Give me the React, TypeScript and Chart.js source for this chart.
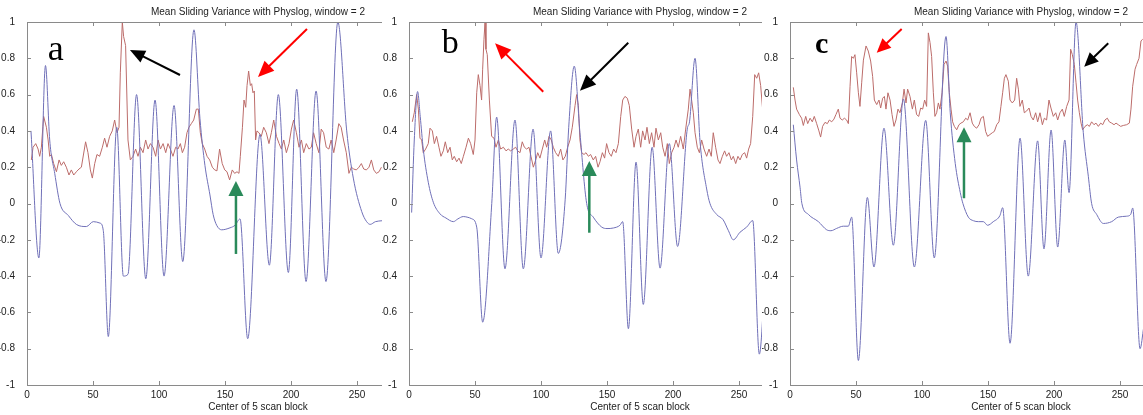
import React, { useEffect, useRef } from 'react';
import { Chart, registerables } from 'chart.js';

Chart.register(...registerables);

// ---------- text & ticks ----------
const TITLE = 'Mean Sliding Variance with Physlog, window = 2';
const X_LABEL = 'Center of 5 scan block';
const X_TICKS = [0, 50, 100, 150, 200, 250];
const Y_TICKS = [-1, -0.8, -0.6, -0.4, -0.2, 0, 0.2, 0.4, 0.6, 0.8, 1];

// ---------- panel a ----------
const aBlue: [number, number][] = [
  [3, 0.40], [9, -0.30], [14, 0.76], [17.2, 0.35], [21, 0.166], [25, 0.0], [31.3, -0.066], [37.6, -0.116],
  [45, -0.127], [50.2, -0.10], [55.3, -0.108], [57.8, -0.149], [61.6, -0.733], [68, 0.42], [73, -0.40],
  [76.5, -0.39], [83, 0.60], [90, -0.415], [97, 0.57], [103.8, -0.40], [111.4, 0.54], [118, -0.32],
  [126.5, 0.957], [131, 0.47], [134.8, 0.21], [138.6, 0.047], [141, -0.06], [143.7, -0.12], [147.5, -0.145],
  [153.8, -0.134], [157.6, -0.12], [161.4, -0.085], [167.2, -0.745], [176.5, 0.38], [183.6, -0.34],
  [190.4, 0.60], [198, -0.38], [204.3, 0.63], [211.4, -0.43], [219, 0.62], [226.5, -0.43], [235.5, 1.0],
  [242.2, 0.40], [247.2, 0.14], [253.6, -0.045], [257.3, -0.10], [260, -0.115], [264, -0.10], [269, -0.095],
];
const aRed: [number, number][] = [
  [3.3, 0.24], [4.6, 0.31], [6.6, 0.33], [8.4, 0.30], [9.6, 0.26], [10.9, 0.31], [12.6, 0.48], [14.7, 0.42],
  [16, 0.35], [17.2, 0.26], [18.5, 0.27], [20.2, 0.22], [22.3, 0.175], [24.3, 0.24], [26, 0.21], [27.8, 0.23],
  [29.8, 0.20], [31.8, 0.157], [33.6, 0.185], [35.4, 0.157], [37.4, 0.175], [39.4, 0.19], [41.2, 0.20],
  [44.4, 0.34], [46.2, 0.28], [48, 0.185], [49.5, 0.14], [51.3, 0.22], [53, 0.27], [55, 0.26], [57.1, 0.31],
  [58.8, 0.36], [60.6, 0.31], [62.6, 0.37], [64.6, 0.40], [66.4, 0.46], [68.2, 0.39], [69.7, 0.42],
  [70.7, 0.72], [72.2, 1.0], [73.2, 0.92], [74.7, 0.87], [76.5, 0.35], [78.3, 0.24], [80.3, 0.26],
  [82.3, 0.30], [84.1, 0.26], [85.9, 0.31], [87.9, 0.28], [89.9, 0.35], [91.7, 0.30], [93.5, 0.33],
  [95.5, 0.31], [97.5, 0.26], [99.3, 0.35], [101.1, 0.30], [103.1, 0.33], [105.1, 0.28], [106.8, 0.33],
  [108.6, 0.30], [110.6, 0.26], [112.6, 0.31], [114.4, 0.30], [116.2, 0.33], [117.7, 0.28], [119.4, 0.31],
  [121.2, 0.39], [122.7, 0.42], [124.5, 0.44], [126.3, 0.46], [128.3, 0.52], [129.8, 0.52], [131.3, 0.39],
  [132.8, 0.33], [134.6, 0.30], [136.4, 0.26], [138.4, 0.24], [140.4, 0.20], [142.2, 0.185], [143.9, 0.18],
  [145.9, 0.30], [147.9, 0.22], [149.8, 0.185], [151.5, 0.175], [153.5, 0.13], [155.5, 0.185], [157.3, 0.166],
  [159.1, 0.175], [160.6, 0.166], [161.6, 0.26], [163.2, 0.42], [164.4, 0.57], [165.7, 0.53], [166.7, 0.65],
  [167.9, 0.73], [169.2, 0.65], [170.2, 0.66], [171.2, 0.61], [172.2, 0.62], [173.2, 0.35], [174.2, 0.40],
  [175.7, 0.39], [177.5, 0.37], [179.3, 0.42], [181.3, 0.39], [183.3, 0.33], [185.1, 0.39], [186.9, 0.46],
  [189, 0.37], [191, 0.33], [192.7, 0.30], [194.5, 0.35], [196.5, 0.28], [198.5, 0.33], [200.3, 0.41],
  [202, 0.46], [204.1, 0.39], [206.1, 0.31], [207.9, 0.35], [209.6, 0.28], [211.6, 0.33], [213.6, 0.30],
  [215.4, 0.31], [217.1, 0.39], [219.1, 0.33], [221.1, 0.28], [222.9, 0.41], [224.7, 0.39], [226.7, 0.31],
  [228.7, 0.30], [230.4, 0.35], [232.4, 0.28], [234.2, 0.35], [236.2, 0.44], [238, 0.42], [239.8, 0.35],
  [241.9, 0.28], [243.9, 0.166], [245.7, 0.20], [247.5, 0.19], [249.5, 0.185], [251.5, 0.20], [253.3, 0.22],
  [255.1, 0.19], [257.1, 0.185], [259.1, 0.20], [260.9, 0.24], [262.7, 0.185], [264.7, 0.166], [266.7, 0.175],
  [268.5, 0.2],
];

// ---------- panel b ----------
const bBlue: [number, number][] = [
  [2, -0.05], [4, 0.35], [6.5, 0.617], [8.5, 0.48], [10.8, 0.30], [14.6, 0.117], [18.4, 0.007], [23.5, -0.057],
  [28, -0.08], [33.6, -0.10], [37, -0.085], [41.1, -0.072], [44, -0.075], [47.5, -0.084], [51.3, -0.13],
  [55.8, -0.654], [62.7, 0.0], [66.4, 0.476], [72.7, -0.36], [80.3, 0.46], [86.6, -0.36], [94, 0.41],
  [100, -0.30], [107.3, 0.40], [113.1, -0.275], [118.3, 0.02], [121, 0.42], [125.2, 0.757], [129.5, 0.39],
  [134.6, 0.0], [139.6, -0.075], [146, -0.13], [150, -0.138], [154.8, -0.135], [159.8, -0.12], [161.9, -0.10],
  [166.2, -0.69], [172, 0.228], [177.5, -0.556], [184.2, 0.31], [190.2, -0.356], [197.2, 0.33], [203.5, -0.237],
  [210.8, 0.41], [212.5, 0.45], [216.7, 0.80], [220.5, 0.34], [225.5, 0.08], [228, 0.0], [233, -0.06],
  [238, -0.09], [242, -0.15], [245.7, -0.2], [250.8, -0.158], [255.8, -0.13], [260.4, -0.094], [265.4, -0.83],
  [269.7, -0.42],
];
const bRed: [number, number][] = [
  [2.5, 0.45], [4, 0.50], [5.8, 0.60], [7.1, 0.52], [8.3, 0.36], [9.6, 0.35], [10.8, 0.28], [12.6, 0.30],
  [14.6, 0.33], [15.9, 0.415], [17.7, 0.40], [19.2, 0.33], [20.9, 0.37], [22.7, 0.31], [24.2, 0.26], [26, 0.29],
  [27.5, 0.34], [29.3, 0.28], [31.1, 0.31], [32.8, 0.24], [34.3, 0.26], [36.1, 0.23], [37.9, 0.25], [39.6, 0.22],
  [41.2, 0.26], [43.2, 0.31], [45, 0.36], [46.7, 0.33], [48.7, 0.27], [50, 0.35], [51.3, 0.61], [52.5, 0.71],
  [53.8, 0.65], [55, 0.57], [55.8, 0.74], [56.8, 0.905], [57.6, 1.0], [58.3, 0.85], [59.3, 0.82], [60.9, 0.57],
  [62.6, 0.37], [64.4, 0.36], [65.9, 0.31], [67.7, 0.35], [69.4, 0.30], [71.5, 0.31], [73.5, 0.29], [75.2, 0.30],
  [77, 0.29], [79, 0.30], [80.8, 0.31], [82.3, 0.29], [84.1, 0.28], [85.8, 0.34], [87.4, 0.31], [89.1, 0.30],
  [90.9, 0.31], [92.4, 0.26], [94.2, 0.20], [96, 0.24], [97.5, 0.28], [99.2, 0.25], [101, 0.30], [102.8, 0.35],
  [104.3, 0.31], [106.1, 0.37], [107.8, 0.35], [109.3, 0.31], [111.1, 0.28], [113.1, 0.26], [114.9, 0.30],
  [116.6, 0.24], [118.4, 0.26], [120.2, 0.31], [122, 0.35], [123.7, 0.42], [125.8, 0.54], [127, 0.60],
  [128.3, 0.54], [129.5, 0.35], [130.8, 0.28], [132.6, 0.27], [134.1, 0.28], [135.9, 0.26], [137.6, 0.27],
  [139.6, 0.24], [141.4, 0.26], [143.2, 0.20], [144.7, 0.23], [146.5, 0.28], [148.2, 0.25], [149.7, 0.33],
  [151.5, 0.28], [153.3, 0.26], [155, 0.30], [156.8, 0.28], [158.6, 0.33], [160.4, 0.48], [161.9, 0.57],
  [163.6, 0.59], [165.4, 0.58], [166.9, 0.54], [168.7, 0.41], [170.5, 0.31], [172, 0.37], [173.7, 0.41],
  [175.5, 0.31], [177, 0.40], [178.8, 0.35], [180.3, 0.42], [182.1, 0.33], [183.8, 0.39], [185.6, 0.31],
  [187.1, 0.415], [188.9, 0.35], [190.7, 0.39], [192.2, 0.31], [194, 0.26], [195.7, 0.33], [197.2, 0.22],
  [199, 0.28], [200.8, 0.31], [202.3, 0.35], [204, 0.31], [205.8, 0.37], [207.8, 0.30], [209.6, 0.41],
  [211.6, 0.52], [212.9, 0.63], [214.1, 0.57], [215.4, 0.50], [216.7, 0.39], [218.4, 0.31], [220, 0.28],
  [221.7, 0.35], [223.5, 0.30], [225.5, 0.26], [227.3, 0.30], [229, 0.26], [230.5, 0.39], [232.3, 0.31],
  [234.1, 0.24], [235.6, 0.22], [237.4, 0.26], [239.1, 0.29], [240.6, 0.26], [242.4, 0.28], [244.2, 0.24],
  [245.7, 0.26], [247.5, 0.22], [249.2, 0.26], [250.8, 0.24], [252.5, 0.27], [254.3, 0.28], [255.8, 0.25],
  [257.3, 0.30], [258.8, 0.33], [260.4, 0.48], [261.9, 0.71], [263.4, 0.69], [264.9, 0.72], [266.4, 0.65],
  [267.9, 0.52], [269.4, 0.39],
];

// ---------- panel c ----------
const cBlue: [number, number][] = [
  [2.5, 0.434], [5, 0.24], [7.6, 0.09], [9, 0.0], [13.9, -0.06], [21.5, -0.1], [27.8, -0.145], [31, -0.15],
  [35.4, -0.137], [40.4, -0.125], [44.2, -0.125], [46.7, -0.075], [51.8, -0.865], [58.6, 0.033], [63.6, -0.35],
  [71.2, 0.415], [78.3, -0.23], [85.9, 0.576], [94.2, -0.35], [102.8, 0.458], [109.3, -0.30], [118.2, 0.92],
  [121.4, 0.50], [125.2, 0.22], [129, 0.06], [131, 0.0], [135.1, -0.075], [139, -0.095], [142.7, -0.1],
  [146.5, -0.1], [149.7, -0.12], [154, -0.1], [159, -0.067], [161.1, -0.023], [166.7, -0.77], [174.3, 0.36],
  [180.5, -0.40], [187.6, 0.345], [192.4, -0.25], [197.8, 0.405], [202.8, -0.24], [208.2, 0.35], [211.4, 0.06],
  [216.7, 1.0], [222.2, 0.39], [226, 0.15], [228.5, 0.0], [232.3, -0.06], [237.4, -0.11], [243.7, -0.10],
  [248.7, -0.075], [255, -0.07], [258.1, -0.06], [259.6, -0.025], [265.2, -0.80], [268, -0.68],
];
const cRed: [number, number][] = [
  [2.5, 0.64], [3.8, 0.57], [5, 0.52], [7.1, 0.49], [8.8, 0.47], [10.1, 0.43], [11.9, 0.48], [13.4, 0.44],
  [15.2, 0.47], [16.9, 0.45], [18.4, 0.48], [20.2, 0.44], [21.9, 0.40], [23.2, 0.366], [24.7, 0.425],
  [26.5, 0.447], [28.3, 0.44], [29.8, 0.46], [31.6, 0.45], [33.3, 0.465], [34.8, 0.49], [36.6, 0.52],
  [37.9, 0.47], [39.6, 0.46], [41.2, 0.47], [42.9, 0.46], [44.2, 0.44], [45.5, 0.646], [46.7, 0.81], [48, 0.80],
  [49.2, 0.82], [50.5, 0.72], [51.8, 0.61], [53, 0.535], [54.3, 0.665], [55.6, 0.79], [57.6, 0.868],
  [59.3, 0.84], [61.1, 0.785], [62.6, 0.70], [63.9, 0.57], [65.7, 0.545], [67.4, 0.57], [68.7, 0.526],
  [70.2, 0.58], [71.5, 0.59], [72.7, 0.52], [74.2, 0.61], [75.8, 0.57], [77.3, 0.49], [78.8, 0.425],
  [80.3, 0.46], [81.8, 0.52], [83.3, 0.50], [85.1, 0.554], [86.4, 0.63], [87.9, 0.554], [89.1, 0.63],
  [90.9, 0.59], [92.7, 0.52], [94.2, 0.57], [95.9, 0.49], [97.5, 0.48], [99, 0.526], [100.5, 0.52], [102, 0.57],
  [103.5, 0.535], [104.8, 0.94], [106.1, 0.886], [107.3, 0.81], [108.6, 0.61], [109.8, 0.48], [111.1, 0.50],
  [112.4, 0.554], [113.6, 0.52], [115.2, 0.61], [116.7, 0.766], [118.2, 0.785], [119.4, 0.757], [120.7, 0.61],
  [122, 0.52], [123.2, 0.45], [124.5, 0.425], [126.3, 0.406], [128, 0.434], [129.5, 0.443], [131.3, 0.45],
  [133.1, 0.47], [134.6, 0.46], [136.4, 0.50], [138.1, 0.443], [139.6, 0.425], [141.4, 0.415], [143.2, 0.434],
  [144.7, 0.47], [146.5, 0.48], [148.2, 0.397], [149.7, 0.37], [151.5, 0.38], [153.3, 0.39], [154.8, 0.397],
  [156.6, 0.434], [158.3, 0.45], [159.8, 0.535], [161.1, 0.61], [162.4, 0.69], [163.6, 0.71], [165.4, 0.674],
  [166.7, 0.57], [168.4, 0.554], [170.2, 0.57], [171.7, 0.69], [173, 0.63], [174.2, 0.535], [176, 0.57],
  [177.5, 0.50], [179.3, 0.51], [181.1, 0.526], [182.6, 0.48], [184.3, 0.46], [186.1, 0.50], [187.6, 0.45],
  [189.4, 0.50], [191.2, 0.434], [192.7, 0.47], [194.4, 0.46], [196.2, 0.57], [197.7, 0.526], [199.5, 0.48],
  [201.3, 0.50], [202.8, 0.46], [204.5, 0.50], [206.3, 0.52], [207.8, 0.48], [209.6, 0.535], [211.4, 0.57],
  [212.6, 0.85], [213.9, 0.82], [215.4, 0.766], [216.7, 0.665], [217.9, 0.57], [219.2, 0.50], [220.5, 0.443],
  [221.7, 0.406], [223.5, 0.425], [225.3, 0.434], [226.8, 0.425], [228.5, 0.45], [230.3, 0.434], [231.8, 0.443],
  [233.6, 0.425], [235.4, 0.443], [236.9, 0.434], [238.6, 0.46], [240.4, 0.47], [241.9, 0.45], [243.7, 0.443],
  [245.5, 0.434], [247, 0.443], [248.7, 0.434], [250.5, 0.425], [252.5, 0.43], [255, 0.434], [257.1, 0.443],
  [258.3, 0.52], [259.6, 0.646], [261.4, 0.74], [262.6, 0.766], [264.4, 0.80], [265.9, 0.896], [267.2, 0.905],
];

// ---------- styling ----------
const RED_LINE = 'rgb(188, 108, 106)';
const BLUE_LINE = 'rgb(112, 112, 184)';
const AXIS_GRAY = '#8a8a8a';
const TEXT = '#222222';
const SANS = '"Liberation Sans", Arial, sans-serif';
const SERIF = '"Liberation Serif", "Times New Roman", serif';
const TITLE_CENTER_X = 175; // data-x where the (wider original) axes centre its title

type Arrow = { color: string; from: [number, number]; to: [number, number]; lw: number; head: number; headW: number };
type Panel = {
  left: number; width: number; axisLeft: number; xMax: number;
  blue: [number, number][]; red: [number, number][];
  letter: { text: string; at: [number, number]; font: string };
  arrows: Arrow[];
};

const PANELS: Panel[] = [
  {
    left: 0, width: 382, axisLeft: 27, xMax: 355 / 1.32, blue: aBlue, red: aRed,
    letter: { text: 'a', at: [15.7, 0.793], font: `36px ${SERIF}` },
    arrows: [
      { color: '#000000', from: [115.9, 0.708], to: [78.0, 0.846], lw: 2, head: 15, headW: 13 },
      { color: '#ff0000', from: [212.1, 0.961], to: [175.0, 0.697], lw: 2, head: 16, headW: 14 },
      { color: '#2a8a5a', from: [158.3, -0.278], to: [158.3, 0.124], lw: 2.5, head: 15, headW: 15 },
    ],
  },
  {
    left: 382, width: 380, axisLeft: 27, xMax: 353 / 1.32, blue: bBlue, red: bRed,
    letter: { text: 'b', at: [24.8, 0.829], font: `34px ${SERIF}` },
    arrows: [
      { color: '#ff0000', from: [101.7, 0.616], to: [65.2, 0.883], lw: 2, head: 16, headW: 14 },
      { color: '#000000', from: [166.1, 0.886], to: [129.5, 0.621], lw: 2, head: 16, headW: 14 },
      { color: '#2a8a5a', from: [136.6, -0.161], to: [136.6, 0.234], lw: 2.5, head: 15, headW: 15 },
    ],
  },
  {
    left: 762, width: 381, axisLeft: 28, xMax: 353 / 1.32, blue: cBlue, red: cRed,
    letter: { text: 'c', at: [18.9, 0.829], font: `bold 30px ${SERIF}` },
    arrows: [
      { color: '#ff0000', from: [84.6, 0.961], to: [65.7, 0.831], lw: 2, head: 14, headW: 13 },
      { color: '#000000', from: [241.1, 0.883], to: [222.9, 0.754], lw: 2, head: 14, headW: 13 },
      { color: '#2a8a5a', from: [131.8, 0.029], to: [131.8, 0.42], lw: 2.5, head: 15, headW: 15 },
    ],
  },
];

function drawArrow(ctx: CanvasRenderingContext2D, x1: number, y1: number, x2: number, y2: number, a: Arrow) {
  const dx = x2 - x1, dy = y2 - y1;
  const len = Math.hypot(dx, dy);
  const ux = dx / len, uy = dy / len;
  const bx = x2 - ux * a.head, by = y2 - uy * a.head;
  ctx.strokeStyle = a.color;
  ctx.fillStyle = a.color;
  ctx.lineWidth = a.lw;
  ctx.beginPath();
  ctx.moveTo(x1, y1);
  ctx.lineTo(bx + ux, by + uy);
  ctx.stroke();
  ctx.beginPath();
  ctx.moveTo(x2, y2);
  ctx.lineTo(bx - uy * a.headW / 2, by + ux * a.headW / 2);
  ctx.lineTo(bx + uy * a.headW / 2, by - ux * a.headW / 2);
  ctx.closePath();
  ctx.fill();
}

function makeOverlay(p: Panel) {
  return {
    id: 'overlay',
    afterDraw(chart: any) {
      const { ctx, chartArea } = chart;
      const xs = chart.scales.x, ys = chart.scales.y;
      ctx.save();
      // top border and inner tick marks
      ctx.strokeStyle = AXIS_GRAY;
      ctx.lineWidth = 1;
      ctx.beginPath();
      const topY = Math.round(chartArea.top) + 0.5;
      ctx.moveTo(chartArea.left, topY);
      ctx.lineTo(chartArea.right, topY);
      for (const v of X_TICKS) {
        if (v === 0) continue;
        const px = Math.round(xs.getPixelForValue(v)) + 0.5;
        ctx.moveTo(px, chartArea.top);
        ctx.lineTo(px, chartArea.top + 4);
        ctx.moveTo(px, chartArea.bottom);
        ctx.lineTo(px, chartArea.bottom - 4);
      }
      for (const v of Y_TICKS) {
        const py = Math.round(ys.getPixelForValue(v)) + 0.5;
        ctx.moveTo(chartArea.left, py);
        ctx.lineTo(chartArea.left + 4, py);
      }
      ctx.stroke();

      // title and x label
      ctx.fillStyle = TEXT;
      ctx.font = `10px ${SANS}`;
      ctx.textAlign = 'center';
      ctx.textBaseline = 'alphabetic';
      const cx = xs.getPixelForValue(TITLE_CENTER_X);
      ctx.fillText(TITLE, cx, 15);
      ctx.fillText(X_LABEL, cx, 410);

      // panel letter
      ctx.font = p.letter.font;
      ctx.textAlign = 'left';
      ctx.fillStyle = '#000000';
      ctx.fillText(p.letter.text, xs.getPixelForValue(p.letter.at[0]), ys.getPixelForValue(p.letter.at[1]));

      // arrows
      for (const a of p.arrows) {
        drawArrow(
          ctx,
          xs.getPixelForValue(a.from[0]), ys.getPixelForValue(a.from[1]),
          xs.getPixelForValue(a.to[0]), ys.getPixelForValue(a.to[1]),
          a,
        );
      }
      ctx.restore();
    },
  };
}

function PanelChart({ p }: { p: Panel }) {
  const ref = useRef<HTMLCanvasElement | null>(null);
  useEffect(() => {
    if (!ref.current) return;
    const chart = new Chart(ref.current, {
      type: 'line',
      data: {
        datasets: [
          {
            label: 'physlog',
            data: p.blue.map(([x, y]) => ({ x, y })),
            borderColor: BLUE_LINE,
            borderWidth: 1,
            pointRadius: 0,
            cubicInterpolationMode: 'monotone',
            tension: 0.4,
            fill: false,
          },
          {
            label: 'variance',
            data: p.red.map(([x, y]) => ({ x, y })),
            borderColor: RED_LINE,
            borderWidth: 1,
            pointRadius: 0,
            tension: 0,
            fill: false,
          },
        ],
      },
      options: {
        responsive: false,
        animation: false,
        events: [],
        layout: { padding: { top: 22, right: 0, bottom: 0, left: 0 } },
        plugins: { legend: { display: false }, title: { display: false }, tooltip: { enabled: false } },
        scales: {
          x: {
            type: 'linear',
            position: 'bottom',
            min: 0,
            max: p.xMax,
            grid: { display: false },
            border: { display: true, color: AXIS_GRAY, width: 1 },
            ticks: {
              autoSkip: false,
              maxRotation: 0,
              padding: -4,
              color: TEXT,
              font: { family: SANS, size: 10 },
              callback: (v: any) => String(v),
            },
            afterBuildTicks: (s: any) => { s.ticks = X_TICKS.map((v) => ({ value: v })); },
            afterFit: (s: any) => { s.height = 30; },
          },
          y: {
            type: 'linear',
            position: 'left',
            min: -1,
            max: 1,
            grid: { display: false },
            border: { display: true, color: AXIS_GRAY, width: 1 },
            ticks: {
              padding: 4,
              color: TEXT,
              font: { family: SANS, size: 10 },
              callback: (v: any) => String(v),
            },
            afterBuildTicks: (s: any) => { s.ticks = Y_TICKS.map((v) => ({ value: v })); },
            afterFit: (s: any) => { s.width = p.axisLeft; },
          },
        },
      },
      plugins: [makeOverlay(p)],
    } as any);
    return () => chart.destroy();
  }, [p]);
  return (
    <canvas
      ref={ref}
      width={p.width}
      height={415}
      style={{ position: 'absolute', left: p.left, top: 0, width: p.width, height: 415 }}
    />
  );
}

export default function App() {
  return (
    <div style={{ position: 'absolute', left: 0, top: 0, width: 1143, height: 415, background: '#ffffff', overflow: 'hidden' }}>
      {PANELS.map((p, i) => (
        <PanelChart key={i} p={p} />
      ))}
    </div>
  );
}
